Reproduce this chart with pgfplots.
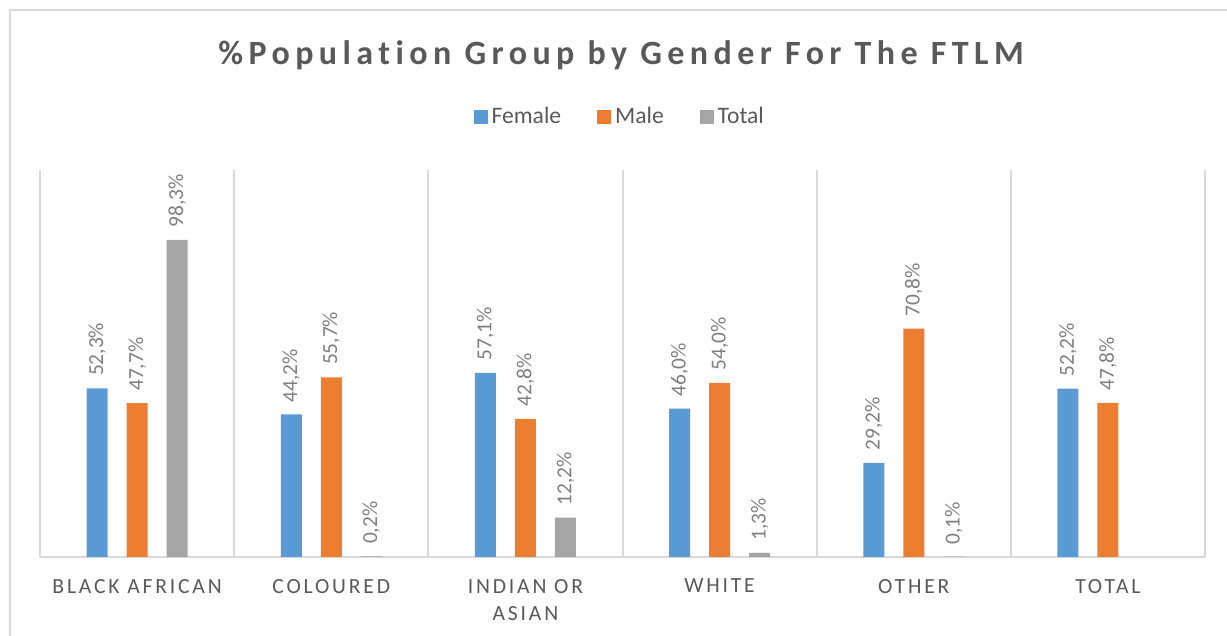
\documentclass[border=0pt]{standalone}
\usepackage{fontspec}
\setmainfont{Carlito}
\newfontfamily\titlefont[LetterSpace=16,Ligatures=NoCommon]{Carlito Bold}
\newfontfamily\tickfont[LetterSpace=13]{Carlito}
\usepackage{pgfplots}
\pgfplotsset{compat=1.18}
\definecolor{cfem}{HTML}{5B9BD5}
\definecolor{cmale}{HTML}{ED7D31}
\definecolor{ctot}{HTML}{A5A5A5}
\definecolor{gridc}{HTML}{D9D9D9}
\definecolor{txt}{HTML}{595959}
\definecolor{lbl}{HTML}{7F7F7F}
\begin{document}
\begin{tikzpicture}
\useasboundingbox (0,0) rectangle (613.5bp,318bp);
\draw[gridc,line width=1bp] (5bp,0) -- (5bp,313bp) -- (613.5bp,313bp);
\node[anchor=base,text=txt,font=\titlefont\fontsize{17bp}{19bp}\selectfont]
  at (310.5bp,285.85bp) {\%Population Group by Gender For The FTLM};
\begin{axis}[
  at={(20bp,39.5bp)}, anchor=south west,
  scale only axis, width=582.5bp, height=193.5bp,
  ybar=9.5bp, bar width=10.5bp,
  xmin=-0.5, xmax=5.5, ymin=0, ymax=120,
  xtick={0,1,2,3,4,5},
  xticklabels={BLACK AFRICAN,COLOURED,{INDIAN OR\\ASIAN},WHITE,OTHER,TOTAL},
  xticklabel style={font=\tickfont\fontsize{10.8bp}{13.5bp}\selectfont,text=txt,align=center,anchor=north,yshift=-7.5bp},
  minor xtick={-0.5,0.5,...,5.5},
  xminorgrids, minor grid style={gridc,line width=1bp},
  major tick length=0pt, minor tick length=0pt,
  axis x line*=bottom, axis y line=none,
  x axis line style={gridc,line width=1bp,-},
  legend style={at={(0.4985,1.137)},anchor=center,draw=none,fill=none,
    font=\fontsize{11.8bp}{13bp}\selectfont,text=txt,legend columns=3,
    /tikz/every even column/.append style={column sep=16bp}},
  legend image code/.code={\fill[#1] (0bp,-3.5bp) rectangle (7bp,3.5bp);},
  nodes near coords={\pgfmathprintnumber{\pgfplotspointmeta}\%},
  /pgf/number format/.cd, fixed, fixed zerofill, precision=1, use comma, assume math mode=true,
  /pgfplots/.cd,
  every node near coord/.append style={rotate=90,anchor=west,text=lbl,
    font=\fontsize{10.7bp}{12bp}\selectfont,inner xsep=6bp},
]
\addplot[fill=cfem,draw=none] coordinates {(0,52.3) (1,44.2) (2,57.1) (3,46.0) (4,29.2) (5,52.2)};
\addlegendentry{Female}
\addplot[fill=cmale,draw=none] coordinates {(0,47.7) (1,55.7) (2,42.8) (3,54.0) (4,70.8) (5,47.8)};
\addlegendentry{Male}
\addplot[fill=ctot,draw=none] coordinates {(0,98.3) (1,0.2) (2,12.2) (3,1.3) (4,0.1)};
\addlegendentry{Total}
\end{axis}
\end{tikzpicture}
\end{document}
